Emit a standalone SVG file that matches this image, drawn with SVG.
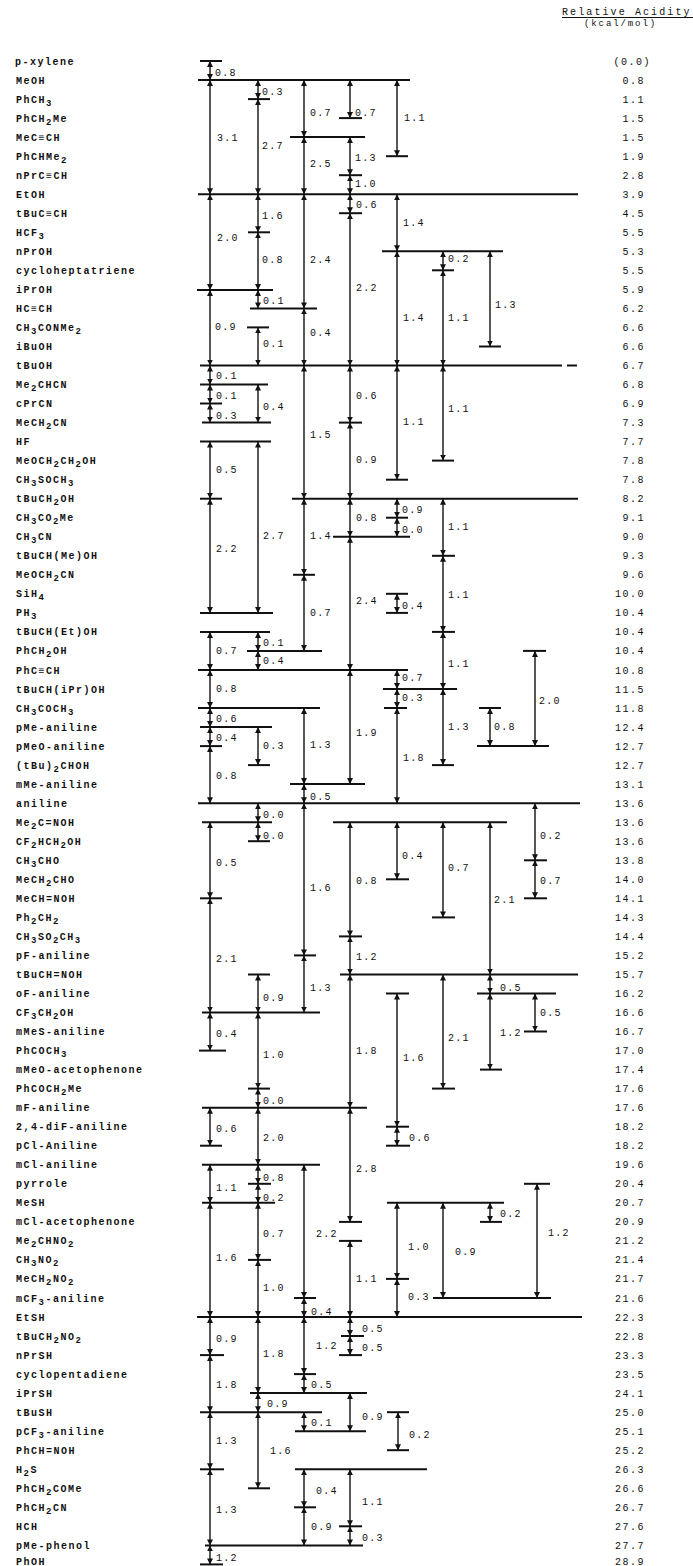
<svg xmlns="http://www.w3.org/2000/svg" width="693" height="1566" viewBox="0 0 693 1566">
<style>
  text { fill: #111; font-family: "Liberation Mono", "DejaVu Sans Mono", monospace; }
  .lb { font-size: 10px; font-weight: bold; letter-spacing: 1.5px; }
  .v { font-size: 10px; letter-spacing: 1.5px; text-anchor: end; }
  .n { font-size: 10px; letter-spacing: 1.2px; }
  .s { font-size: 9px; }
  .hd { font-size: 10px; letter-spacing: 2.1px; }
  .lv line, .tb line { stroke: #111; stroke-width: 2; }
  .ar line { stroke: #111; stroke-width: 1.4; marker-start: url(#ah); marker-end: url(#ah); }
</style>
<defs>
  <marker id="ah" viewBox="0 0 10 10" refX="10" refY="5" markerWidth="6" markerHeight="6" markerUnits="userSpaceOnUse" orient="auto-start-reverse">
    <path d="M0,0 L10,5 L0,10 z" fill="#111"/>
  </marker>
</defs>
<rect width="693" height="1566" fill="#fff"/>

<!-- column header -->
<g id="header">
  <text class="hd" x="562" y="15">Relative Acidity</text>
  <line x1="562" y1="17.5" x2="693" y2="17.5" stroke="#111" stroke-width="1"/>
  <text class="hd" x="584" y="26" style="font-size:9px;letter-spacing:1.9px">(kcal/mol)</text>
</g>

<!-- compounds: name on the left, relative acidity on the right -->
<g id="compounds">
<g id="c01"><text class="lb" x="15" y="64.5">p-xylene</text><text class="v" x="651" y="64.5">(0.0)</text></g>
<g id="c02"><text class="lb" x="16" y="83.5">MeOH</text><text class="v" x="645" y="83.5">0.8</text></g>
<g id="c03"><text class="lb" x="16" y="102.6">PhCH<tspan class="s" dy="3">3</tspan></text><text class="v" x="645" y="102.6">1.1</text></g>
<g id="c04"><text class="lb" x="16" y="121.6">PhCH<tspan class="s" dy="3">2</tspan><tspan dy="-3">Me</tspan></text><text class="v" x="645" y="121.6">1.5</text></g>
<g id="c05"><text class="lb" x="16" y="140.6">MeC≡CH</text><text class="v" x="645" y="140.6">1.5</text></g>
<g id="c06"><text class="lb" x="16" y="159.7">PhCHMe<tspan class="s" dy="3">2</tspan></text><text class="v" x="645" y="159.7">1.9</text></g>
<g id="c07"><text class="lb" x="16" y="178.7">nPrC≡CH</text><text class="v" x="645" y="178.7">2.8</text></g>
<g id="c08"><text class="lb" x="16" y="197.7">EtOH</text><text class="v" x="645" y="197.7">3.9</text></g>
<g id="c09"><text class="lb" x="16" y="216.7">tBuC≡CH</text><text class="v" x="645" y="216.7">4.5</text></g>
<g id="c10"><text class="lb" x="16" y="235.8">HCF<tspan class="s" dy="3">3</tspan></text><text class="v" x="645" y="235.8">5.5</text></g>
<g id="c11"><text class="lb" x="16" y="254.8">nPrOH</text><text class="v" x="645" y="254.8">5.3</text></g>
<g id="c12"><text class="lb" x="16" y="273.8">cycloheptatriene</text><text class="v" x="645" y="273.8">5.5</text></g>
<g id="c13"><text class="lb" x="16" y="292.9">iPrOH</text><text class="v" x="645" y="292.9">5.9</text></g>
<g id="c14"><text class="lb" x="16" y="311.9">HC≡CH</text><text class="v" x="645" y="311.9">6.2</text></g>
<g id="c15"><text class="lb" x="16" y="330.9">CH<tspan class="s" dy="3">3</tspan><tspan dy="-3">CONMe</tspan><tspan class="s" dy="3">2</tspan></text><text class="v" x="645" y="330.9">6.6</text></g>
<g id="c16"><text class="lb" x="16" y="350.0">iBuOH</text><text class="v" x="645" y="350.0">6.6</text></g>
<g id="c17"><text class="lb" x="16" y="369.0">tBuOH</text><text class="v" x="645" y="369.0">6.7</text></g>
<g id="c18"><text class="lb" x="16" y="388.0">Me<tspan class="s" dy="3">2</tspan><tspan dy="-3">CHCN</tspan></text><text class="v" x="645" y="388.0">6.8</text></g>
<g id="c19"><text class="lb" x="16" y="407.0">cPrCN</text><text class="v" x="645" y="407.0">6.9</text></g>
<g id="c20"><text class="lb" x="16" y="426.1">MeCH<tspan class="s" dy="3">2</tspan><tspan dy="-3">CN</tspan></text><text class="v" x="645" y="426.1">7.3</text></g>
<g id="c21"><text class="lb" x="16" y="445.1">HF</text><text class="v" x="645" y="445.1">7.7</text></g>
<g id="c22"><text class="lb" x="16" y="464.1">MeOCH<tspan class="s" dy="3">2</tspan><tspan dy="-3">CH</tspan><tspan class="s" dy="3">2</tspan><tspan dy="-3">OH</tspan></text><text class="v" x="645" y="464.1">7.8</text></g>
<g id="c23"><text class="lb" x="16" y="483.2">CH<tspan class="s" dy="3">3</tspan><tspan dy="-3">SOCH</tspan><tspan class="s" dy="3">3</tspan></text><text class="v" x="645" y="483.2">7.8</text></g>
<g id="c24"><text class="lb" x="16" y="502.2">tBuCH<tspan class="s" dy="3">2</tspan><tspan dy="-3">OH</tspan></text><text class="v" x="645" y="502.2">8.2</text></g>
<g id="c25"><text class="lb" x="16" y="521.2">CH<tspan class="s" dy="3">3</tspan><tspan dy="-3">CO</tspan><tspan class="s" dy="3">2</tspan><tspan dy="-3">Me</tspan></text><text class="v" x="645" y="521.2">9.1</text></g>
<g id="c26"><text class="lb" x="16" y="540.3">CH<tspan class="s" dy="3">3</tspan><tspan dy="-3">CN</tspan></text><text class="v" x="645" y="540.3">9.0</text></g>
<g id="c27"><text class="lb" x="16" y="559.3">tBuCH(Me)OH</text><text class="v" x="645" y="559.3">9.3</text></g>
<g id="c28"><text class="lb" x="16" y="578.3">MeOCH<tspan class="s" dy="3">2</tspan><tspan dy="-3">CN</tspan></text><text class="v" x="645" y="578.3">9.6</text></g>
<g id="c29"><text class="lb" x="16" y="597.3">SiH<tspan class="s" dy="3">4</tspan></text><text class="v" x="645" y="597.3">10.0</text></g>
<g id="c30"><text class="lb" x="16" y="616.4">PH<tspan class="s" dy="3">3</tspan></text><text class="v" x="645" y="616.4">10.4</text></g>
<g id="c31"><text class="lb" x="16" y="635.4">tBuCH(Et)OH</text><text class="v" x="645" y="635.4">10.4</text></g>
<g id="c32"><text class="lb" x="16" y="654.4">PhCH<tspan class="s" dy="3">2</tspan><tspan dy="-3">OH</tspan></text><text class="v" x="645" y="654.4">10.4</text></g>
<g id="c33"><text class="lb" x="16" y="673.5">PhC≡CH</text><text class="v" x="645" y="673.5">10.8</text></g>
<g id="c34"><text class="lb" x="16" y="692.5">tBuCH(iPr)OH</text><text class="v" x="645" y="692.5">11.5</text></g>
<g id="c35"><text class="lb" x="16" y="711.5">CH<tspan class="s" dy="3">3</tspan><tspan dy="-3">COCH</tspan><tspan class="s" dy="3">3</tspan></text><text class="v" x="645" y="711.5">11.8</text></g>
<g id="c36"><text class="lb" x="16" y="730.6">pMe-aniline</text><text class="v" x="645" y="730.6">12.4</text></g>
<g id="c37"><text class="lb" x="16" y="749.6">pMeO-aniline</text><text class="v" x="645" y="749.6">12.7</text></g>
<g id="c38"><text class="lb" x="16" y="768.6">(tBu)<tspan class="s" dy="3">2</tspan><tspan dy="-3">CHOH</tspan></text><text class="v" x="645" y="768.6">12.7</text></g>
<g id="c39"><text class="lb" x="16" y="787.6">mMe-aniline</text><text class="v" x="645" y="787.6">13.1</text></g>
<g id="c40"><text class="lb" x="16" y="806.7">aniline</text><text class="v" x="645" y="806.7">13.6</text></g>
<g id="c41"><text class="lb" x="16" y="825.7">Me<tspan class="s" dy="3">2</tspan><tspan dy="-3">C=NOH</tspan></text><text class="v" x="645" y="825.7">13.6</text></g>
<g id="c42"><text class="lb" x="16" y="844.7">CF<tspan class="s" dy="3">2</tspan><tspan dy="-3">HCH</tspan><tspan class="s" dy="3">2</tspan><tspan dy="-3">OH</tspan></text><text class="v" x="645" y="844.7">13.6</text></g>
<g id="c43"><text class="lb" x="16" y="863.8">CH<tspan class="s" dy="3">3</tspan><tspan dy="-3">CHO</tspan></text><text class="v" x="645" y="863.8">13.8</text></g>
<g id="c44"><text class="lb" x="16" y="882.8">MeCH<tspan class="s" dy="3">2</tspan><tspan dy="-3">CHO</tspan></text><text class="v" x="645" y="882.8">14.0</text></g>
<g id="c45"><text class="lb" x="16" y="901.8">MeCH=NOH</text><text class="v" x="645" y="901.8">14.1</text></g>
<g id="c46"><text class="lb" x="16" y="920.9">Ph<tspan class="s" dy="3">2</tspan><tspan dy="-3">CH</tspan><tspan class="s" dy="3">2</tspan></text><text class="v" x="645" y="920.9">14.3</text></g>
<g id="c47"><text class="lb" x="16" y="939.9">CH<tspan class="s" dy="3">3</tspan><tspan dy="-3">SO</tspan><tspan class="s" dy="3">2</tspan><tspan dy="-3">CH</tspan><tspan class="s" dy="3">3</tspan></text><text class="v" x="645" y="939.9">14.4</text></g>
<g id="c48"><text class="lb" x="16" y="958.9">pF-aniline</text><text class="v" x="645" y="958.9">15.2</text></g>
<g id="c49"><text class="lb" x="16" y="978.0">tBuCH=NOH</text><text class="v" x="645" y="978.0">15.7</text></g>
<g id="c50"><text class="lb" x="16" y="997.0">oF-aniline</text><text class="v" x="645" y="997.0">16.2</text></g>
<g id="c51"><text class="lb" x="16" y="1016.0">CF<tspan class="s" dy="3">3</tspan><tspan dy="-3">CH</tspan><tspan class="s" dy="3">2</tspan><tspan dy="-3">OH</tspan></text><text class="v" x="645" y="1016.0">16.6</text></g>
<g id="c52"><text class="lb" x="16" y="1035.0">mMeS-aniline</text><text class="v" x="645" y="1035.0">16.7</text></g>
<g id="c53"><text class="lb" x="16" y="1054.1">PhCOCH<tspan class="s" dy="3">3</tspan></text><text class="v" x="645" y="1054.1">17.0</text></g>
<g id="c54"><text class="lb" x="16" y="1073.1">mMeO-acetophenone</text><text class="v" x="645" y="1073.1">17.4</text></g>
<g id="c55"><text class="lb" x="16" y="1092.1">PhCOCH<tspan class="s" dy="3">2</tspan><tspan dy="-3">Me</tspan></text><text class="v" x="645" y="1092.1">17.6</text></g>
<g id="c56"><text class="lb" x="16" y="1111.2">mF-aniline</text><text class="v" x="645" y="1111.2">17.6</text></g>
<g id="c57"><text class="lb" x="16" y="1130.2">2,4-diF-aniline</text><text class="v" x="645" y="1130.2">18.2</text></g>
<g id="c58"><text class="lb" x="16" y="1149.2">pCl-Aniline</text><text class="v" x="645" y="1149.2">18.2</text></g>
<g id="c59"><text class="lb" x="16" y="1168.3">mCl-aniline</text><text class="v" x="645" y="1168.3">19.6</text></g>
<g id="c60"><text class="lb" x="16" y="1187.3">pyrrole</text><text class="v" x="645" y="1187.3">20.4</text></g>
<g id="c61"><text class="lb" x="16" y="1206.3">MeSH</text><text class="v" x="645" y="1206.3">20.7</text></g>
<g id="c62"><text class="lb" x="16" y="1225.4">mCl-acetophenone</text><text class="v" x="645" y="1225.4">20.9</text></g>
<g id="c63"><text class="lb" x="16" y="1244.4">Me<tspan class="s" dy="3">2</tspan><tspan dy="-3">CHNO</tspan><tspan class="s" dy="3">2</tspan></text><text class="v" x="645" y="1244.4">21.2</text></g>
<g id="c64"><text class="lb" x="16" y="1263.4">CH<tspan class="s" dy="3">3</tspan><tspan dy="-3">NO</tspan><tspan class="s" dy="3">2</tspan></text><text class="v" x="645" y="1263.4">21.4</text></g>
<g id="c65"><text class="lb" x="16" y="1282.4">MeCH<tspan class="s" dy="3">2</tspan><tspan dy="-3">NO</tspan><tspan class="s" dy="3">2</tspan></text><text class="v" x="645" y="1282.4">21.7</text></g>
<g id="c66"><text class="lb" x="16" y="1301.5">mCF<tspan class="s" dy="3">3</tspan><tspan dy="-3">-aniline</tspan></text><text class="v" x="645" y="1301.5">21.6</text></g>
<g id="c67"><text class="lb" x="16" y="1320.5">EtSH</text><text class="v" x="645" y="1320.5">22.3</text></g>
<g id="c68"><text class="lb" x="16" y="1339.5">tBuCH<tspan class="s" dy="3">2</tspan><tspan dy="-3">NO</tspan><tspan class="s" dy="3">2</tspan></text><text class="v" x="645" y="1339.5">22.8</text></g>
<g id="c69"><text class="lb" x="16" y="1358.6">nPrSH</text><text class="v" x="645" y="1358.6">23.3</text></g>
<g id="c70"><text class="lb" x="16" y="1377.6">cyclopentadiene</text><text class="v" x="645" y="1377.6">23.5</text></g>
<g id="c71"><text class="lb" x="16" y="1396.6">iPrSH</text><text class="v" x="645" y="1396.6">24.1</text></g>
<g id="c72"><text class="lb" x="16" y="1415.7">tBuSH</text><text class="v" x="645" y="1415.7">25.0</text></g>
<g id="c73"><text class="lb" x="16" y="1434.7">pCF<tspan class="s" dy="3">3</tspan><tspan dy="-3">-aniline</tspan></text><text class="v" x="645" y="1434.7">25.1</text></g>
<g id="c74"><text class="lb" x="16" y="1453.7">PhCH=NOH</text><text class="v" x="645" y="1453.7">25.2</text></g>
<g id="c75"><text class="lb" x="16" y="1472.8">H<tspan class="s" dy="3">2</tspan><tspan dy="-3">S</tspan></text><text class="v" x="645" y="1472.8">26.3</text></g>
<g id="c76"><text class="lb" x="16" y="1491.8">PhCH<tspan class="s" dy="3">2</tspan><tspan dy="-3">COMe</tspan></text><text class="v" x="645" y="1491.8">26.6</text></g>
<g id="c77"><text class="lb" x="16" y="1510.8">PhCH<tspan class="s" dy="3">2</tspan><tspan dy="-3">CN</tspan></text><text class="v" x="645" y="1510.8">26.7</text></g>
<g id="c78"><text class="lb" x="16" y="1529.8">HCH</text><text class="v" x="645" y="1529.8">27.6</text></g>
<g id="c79"><text class="lb" x="16" y="1548.9">pMe-phenol</text><text class="v" x="645" y="1548.9">27.7</text></g>
<g id="c80"><text class="lb" x="16" y="1565">PhOH</text><text class="v" x="645" y="1565">28.9</text></g>
</g>

<g id="connectors">
<!-- shared acidity levels -->
<g class="lv">
  <line x1="198" y1="80" x2="410" y2="80"/>
  <line x1="290" y1="137.1" x2="365" y2="137.1"/>
  <line x1="198" y1="194.2" x2="578" y2="194.2"/>
  <line x1="382" y1="251.3" x2="503" y2="251.3"/>
  <line x1="197" y1="290" x2="273" y2="290"/>
  <line x1="250" y1="308.4" x2="317" y2="308.4"/>
  <line x1="200" y1="365.5" x2="562" y2="365.5"/>
  <line x1="567" y1="365.5" x2="577" y2="365.5"/>
  <line x1="200" y1="384.5" x2="268" y2="384.5"/>
  <line x1="202" y1="422.6" x2="271" y2="422.6"/>
  <line x1="200" y1="441.6" x2="271" y2="441.6"/>
  <line x1="292" y1="498.7" x2="578" y2="498.7"/>
  <line x1="333" y1="536.8" x2="410" y2="536.8"/>
  <line x1="200" y1="612.9" x2="273" y2="612.9"/>
  <line x1="200" y1="631.9" x2="270" y2="631.9"/>
  <line x1="247" y1="650.9" x2="322" y2="650.9"/>
  <line x1="198" y1="670" x2="408" y2="670"/>
  <line x1="383" y1="689" x2="457" y2="689"/>
  <line x1="198" y1="708" x2="320" y2="708"/>
  <line x1="200" y1="727.1" x2="272" y2="727.1"/>
  <line x1="477" y1="746.1" x2="549" y2="746.1"/>
  <line x1="290" y1="784.1" x2="365" y2="784.1"/>
  <line x1="198" y1="803.2" x2="580" y2="803.2"/>
  <line x1="202" y1="822.2" x2="272" y2="822.2"/>
  <line x1="333" y1="822.2" x2="507" y2="822.2"/>
  <line x1="340" y1="974.5" x2="578" y2="974.5"/>
  <line x1="477" y1="993.5" x2="556" y2="993.5"/>
  <line x1="202" y1="1012.5" x2="320" y2="1012.5"/>
  <line x1="202" y1="1107.7" x2="367" y2="1107.7"/>
  <line x1="202" y1="1164.8" x2="320" y2="1164.8"/>
  <line x1="202" y1="1202.8" x2="275" y2="1202.8"/>
  <line x1="387" y1="1202.8" x2="504" y2="1202.8"/>
  <line x1="433" y1="1298" x2="551" y2="1298"/>
  <line x1="197" y1="1317" x2="582" y2="1317"/>
  <line x1="250" y1="1393.1" x2="367" y2="1393.1"/>
  <line x1="200" y1="1412.2" x2="322" y2="1412.2"/>
  <line x1="295" y1="1431.2" x2="366" y2="1431.2"/>
  <line x1="295" y1="1469.3" x2="427" y2="1469.3"/>
  <line x1="205" y1="1545.4" x2="363" y2="1545.4"/>
</g>

<!-- end ticks -->
<g class="tb">
  <line x1="200" y1="61" x2="222" y2="61"/>
  <line x1="248" y1="99.1" x2="270" y2="99.1"/>
  <line x1="339" y1="118.1" x2="362" y2="118.1"/>
  <line x1="386" y1="156.2" x2="408" y2="156.2"/>
  <line x1="339" y1="175.2" x2="362" y2="175.2"/>
  <line x1="339" y1="213.2" x2="362" y2="213.2"/>
  <line x1="248" y1="232.3" x2="270" y2="232.3"/>
  <line x1="432" y1="270.3" x2="454" y2="270.3"/>
  <line x1="247" y1="327.4" x2="269" y2="327.4"/>
  <line x1="479" y1="346.5" x2="501" y2="346.5"/>
  <line x1="200" y1="403.5" x2="222" y2="403.5"/>
  <line x1="339" y1="422.6" x2="362" y2="422.6"/>
  <line x1="432" y1="460.6" x2="454" y2="460.6"/>
  <line x1="386" y1="479.7" x2="408" y2="479.7"/>
  <line x1="200" y1="498.7" x2="222" y2="498.7"/>
  <line x1="386" y1="517.7" x2="408" y2="517.7"/>
  <line x1="432" y1="555.8" x2="455" y2="555.8"/>
  <line x1="293" y1="574.8" x2="315" y2="574.8"/>
  <line x1="386" y1="593.8" x2="408" y2="593.8"/>
  <line x1="386" y1="612.9" x2="408" y2="612.9"/>
  <line x1="432" y1="631.9" x2="455" y2="631.9"/>
  <line x1="523" y1="650.9" x2="546" y2="650.9"/>
  <line x1="384" y1="708" x2="407" y2="708"/>
  <line x1="479" y1="708" x2="501" y2="708"/>
  <line x1="200" y1="746.1" x2="222" y2="746.1"/>
  <line x1="248" y1="765.1" x2="270" y2="765.1"/>
  <line x1="432" y1="765.1" x2="454" y2="765.1"/>
  <line x1="248" y1="841.2" x2="270" y2="841.2"/>
  <line x1="524" y1="860.3" x2="547" y2="860.3"/>
  <line x1="386" y1="879.3" x2="409" y2="879.3"/>
  <line x1="200" y1="898.3" x2="222" y2="898.3"/>
  <line x1="524" y1="898.3" x2="547" y2="898.3"/>
  <line x1="432" y1="917.4" x2="455" y2="917.4"/>
  <line x1="339" y1="936.4" x2="362" y2="936.4"/>
  <line x1="294" y1="955.4" x2="316" y2="955.4"/>
  <line x1="248" y1="974.5" x2="270" y2="974.5"/>
  <line x1="386" y1="993.5" x2="409" y2="993.5"/>
  <line x1="524" y1="1031.5" x2="547" y2="1031.5"/>
  <line x1="199" y1="1050.6" x2="226" y2="1050.6"/>
  <line x1="480" y1="1069.6" x2="502" y2="1069.6"/>
  <line x1="248" y1="1088.6" x2="270" y2="1088.6"/>
  <line x1="432" y1="1088.6" x2="455" y2="1088.6"/>
  <line x1="386" y1="1126.7" x2="409" y2="1126.7"/>
  <line x1="200" y1="1145.7" x2="222" y2="1145.7"/>
  <line x1="386" y1="1145.7" x2="410" y2="1145.7"/>
  <line x1="248" y1="1183.8" x2="271" y2="1183.8"/>
  <line x1="524" y1="1183.8" x2="550" y2="1183.8"/>
  <line x1="339" y1="1221.9" x2="362" y2="1221.9"/>
  <line x1="480" y1="1221.9" x2="502" y2="1221.9"/>
  <line x1="339" y1="1240.9" x2="362" y2="1240.9"/>
  <line x1="248" y1="1259.9" x2="271" y2="1259.9"/>
  <line x1="386" y1="1278.9" x2="409" y2="1278.9"/>
  <line x1="294" y1="1298" x2="316" y2="1298"/>
  <line x1="341" y1="1336" x2="364" y2="1336"/>
  <line x1="200" y1="1355.1" x2="224" y2="1355.1"/>
  <line x1="339" y1="1355.1" x2="362" y2="1355.1"/>
  <line x1="294" y1="1374.1" x2="316" y2="1374.1"/>
  <line x1="387" y1="1412.2" x2="409" y2="1412.2"/>
  <line x1="387" y1="1450.2" x2="409" y2="1450.2"/>
  <line x1="200" y1="1469.3" x2="224" y2="1469.3"/>
  <line x1="248" y1="1488.3" x2="270" y2="1488.3"/>
  <line x1="294" y1="1507.3" x2="316" y2="1507.3"/>
  <line x1="339" y1="1526.3" x2="362" y2="1526.3"/>
  <line x1="200" y1="1564.4" x2="223" y2="1564.4"/>
</g>

<!-- differences between levels -->
<g class="ar">
  <line x1="210" y1="61" x2="210" y2="80"/>
  <line x1="210" y1="80" x2="210" y2="194.2"/>
  <line x1="258" y1="80" x2="258" y2="99.1"/>
  <line x1="258" y1="99.1" x2="258" y2="194.2"/>
  <line x1="304" y1="80" x2="304" y2="137.1"/>
  <line x1="304" y1="137.1" x2="304" y2="194.2"/>
  <line x1="350" y1="80" x2="350" y2="118.1"/>
  <line x1="397" y1="80" x2="397" y2="156.2"/>
  <line x1="350" y1="137.1" x2="350" y2="175.2"/>
  <line x1="350" y1="175.2" x2="350" y2="194.2"/>
  <line x1="210" y1="194.2" x2="210" y2="290"/>
  <line x1="258" y1="194.2" x2="258" y2="232.3"/>
  <line x1="258" y1="232.3" x2="258" y2="290"/>
  <line x1="258" y1="290" x2="258" y2="308.4"/>
  <line x1="304" y1="194.2" x2="304" y2="308.4"/>
  <line x1="304" y1="308.4" x2="304" y2="365.5"/>
  <line x1="210" y1="290" x2="210" y2="365.5"/>
  <line x1="258" y1="327.4" x2="258" y2="365.5"/>
  <line x1="350" y1="194.2" x2="350" y2="213.2"/>
  <line x1="350" y1="213.2" x2="350" y2="365.5"/>
  <line x1="397" y1="194.2" x2="397" y2="251.3"/>
  <line x1="443" y1="251.3" x2="443" y2="270.3"/>
  <line x1="443" y1="270.3" x2="443" y2="365.5"/>
  <line x1="397" y1="251.3" x2="397" y2="365.5"/>
  <line x1="490" y1="251.3" x2="490" y2="346.5"/>
  <line x1="210" y1="365.5" x2="210" y2="384.5"/>
  <line x1="210" y1="384.5" x2="210" y2="403.5"/>
  <line x1="210" y1="403.5" x2="210" y2="422.6"/>
  <line x1="258" y1="384.5" x2="258" y2="422.6"/>
  <line x1="304" y1="365.5" x2="304" y2="498.7"/>
  <line x1="210" y1="441.6" x2="210" y2="498.7"/>
  <line x1="258" y1="441.6" x2="258" y2="612.9"/>
  <line x1="210" y1="498.7" x2="210" y2="612.9"/>
  <line x1="350" y1="365.5" x2="350" y2="422.6"/>
  <line x1="350" y1="422.6" x2="350" y2="498.7"/>
  <line x1="397" y1="365.5" x2="397" y2="479.7"/>
  <line x1="443" y1="365.5" x2="443" y2="460.6"/>
  <line x1="350" y1="498.7" x2="350" y2="536.8"/>
  <line x1="397" y1="498.7" x2="397" y2="517.7"/>
  <line x1="397" y1="517.7" x2="397" y2="536.8"/>
  <line x1="304" y1="498.7" x2="304" y2="574.8"/>
  <line x1="304" y1="574.8" x2="304" y2="650.9"/>
  <line x1="258" y1="631.9" x2="258" y2="650.9"/>
  <line x1="258" y1="650.9" x2="258" y2="670"/>
  <line x1="210" y1="631.9" x2="210" y2="670"/>
  <line x1="350" y1="536.8" x2="350" y2="670"/>
  <line x1="397" y1="593.8" x2="397" y2="612.9"/>
  <line x1="443" y1="498.7" x2="443" y2="555.8"/>
  <line x1="443" y1="555.8" x2="443" y2="631.9"/>
  <line x1="443" y1="631.9" x2="443" y2="689"/>
  <line x1="443" y1="689" x2="443" y2="765.1"/>
  <line x1="397" y1="670" x2="397" y2="689"/>
  <line x1="397" y1="689" x2="397" y2="708"/>
  <line x1="397" y1="708" x2="397" y2="803.2"/>
  <line x1="350" y1="670" x2="350" y2="784.1"/>
  <line x1="304" y1="708" x2="304" y2="784.1"/>
  <line x1="304" y1="784.1" x2="304" y2="803.2"/>
  <line x1="210" y1="670" x2="210" y2="708"/>
  <line x1="210" y1="708" x2="210" y2="727.1"/>
  <line x1="210" y1="727.1" x2="210" y2="746.1"/>
  <line x1="210" y1="746.1" x2="210" y2="803.2"/>
  <line x1="258" y1="727.1" x2="258" y2="765.1"/>
  <line x1="490" y1="708" x2="490" y2="746.1"/>
  <line x1="535" y1="650.9" x2="535" y2="746.1"/>
  <line x1="258" y1="803.2" x2="258" y2="822.2"/>
  <line x1="258" y1="822.2" x2="258" y2="841.2"/>
  <line x1="210" y1="822.2" x2="210" y2="898.3"/>
  <line x1="210" y1="898.3" x2="210" y2="1012.5"/>
  <line x1="304" y1="803.2" x2="304" y2="955.4"/>
  <line x1="304" y1="955.4" x2="304" y2="1012.5"/>
  <line x1="258" y1="974.5" x2="258" y2="1012.5"/>
  <line x1="258" y1="1012.5" x2="258" y2="1088.6"/>
  <line x1="258" y1="1088.6" x2="258" y2="1107.7"/>
  <line x1="210" y1="1012.5" x2="210" y2="1050.6"/>
  <line x1="350" y1="822.2" x2="350" y2="936.4"/>
  <line x1="350" y1="936.4" x2="350" y2="974.5"/>
  <line x1="397" y1="822.2" x2="397" y2="879.3"/>
  <line x1="443" y1="822.2" x2="443" y2="917.4"/>
  <line x1="490" y1="822.2" x2="490" y2="974.5"/>
  <line x1="535" y1="803.2" x2="535" y2="860.3"/>
  <line x1="535" y1="860.3" x2="535" y2="898.3"/>
  <line x1="490" y1="974.5" x2="490" y2="993.5"/>
  <line x1="490" y1="993.5" x2="490" y2="1069.6"/>
  <line x1="535" y1="993.5" x2="535" y2="1031.5"/>
  <line x1="443" y1="974.5" x2="443" y2="1088.6"/>
  <line x1="397" y1="993.5" x2="397" y2="1126.7"/>
  <line x1="397" y1="1126.7" x2="397" y2="1145.7"/>
  <line x1="350" y1="974.5" x2="350" y2="1107.7"/>
  <line x1="350" y1="1107.7" x2="350" y2="1221.9"/>
  <line x1="350" y1="1240.9" x2="350" y2="1317"/>
  <line x1="210" y1="1107.7" x2="210" y2="1145.7"/>
  <line x1="258" y1="1107.7" x2="258" y2="1164.8"/>
  <line x1="210" y1="1164.8" x2="210" y2="1202.8"/>
  <line x1="258" y1="1164.8" x2="258" y2="1183.8"/>
  <line x1="258" y1="1183.8" x2="258" y2="1202.8"/>
  <line x1="210" y1="1202.8" x2="210" y2="1317"/>
  <line x1="210" y1="1317" x2="210" y2="1355.1"/>
  <line x1="210" y1="1355.1" x2="210" y2="1412.2"/>
  <line x1="258" y1="1202.8" x2="258" y2="1259.9"/>
  <line x1="258" y1="1259.9" x2="258" y2="1317"/>
  <line x1="258" y1="1317" x2="258" y2="1393.1"/>
  <line x1="258" y1="1393.1" x2="258" y2="1412.2"/>
  <line x1="258" y1="1412.2" x2="258" y2="1488.3"/>
  <line x1="304" y1="1164.8" x2="304" y2="1298"/>
  <line x1="304" y1="1298" x2="304" y2="1317"/>
  <line x1="304" y1="1317" x2="304" y2="1374.1"/>
  <line x1="304" y1="1374.1" x2="304" y2="1393.1"/>
  <line x1="350" y1="1317" x2="350" y2="1336"/>
  <line x1="350" y1="1336" x2="350" y2="1355.1"/>
  <line x1="304" y1="1412.2" x2="304" y2="1431.2"/>
  <line x1="350" y1="1393.1" x2="350" y2="1431.2"/>
  <line x1="398" y1="1412.2" x2="398" y2="1450.2"/>
  <line x1="210" y1="1412.2" x2="210" y2="1469.3"/>
  <line x1="210" y1="1469.3" x2="210" y2="1545.4"/>
  <line x1="210" y1="1545.4" x2="210" y2="1564.4"/>
  <line x1="304" y1="1469.3" x2="304" y2="1507.3"/>
  <line x1="304" y1="1507.3" x2="304" y2="1545.4"/>
  <line x1="350" y1="1469.3" x2="350" y2="1526.3"/>
  <line x1="350" y1="1526.3" x2="350" y2="1545.4"/>
  <line x1="397" y1="1202.8" x2="397" y2="1278.9"/>
  <line x1="397" y1="1278.9" x2="397" y2="1317"/>
  <line x1="443" y1="1202.8" x2="443" y2="1298"/>
  <line x1="490" y1="1202.8" x2="490" y2="1221.9"/>
  <line x1="537" y1="1183.8" x2="537" y2="1298"/>
</g>

<!-- difference values -->
<g id="diffs">
  <text class="n" x="215" y="75.5">0.8</text>
  <text class="n" x="217" y="140.5">3.1</text>
  <text class="n" x="262" y="94.5">0.3</text>
  <text class="n" x="262" y="148.5">2.7</text>
  <text class="n" x="310" y="115.5">0.7</text>
  <text class="n" x="310" y="166.5">2.5</text>
  <text class="n" x="355" y="115.5">0.7</text>
  <text class="n" x="404" y="120.5">1.1</text>
  <text class="n" x="355" y="160.5">1.3</text>
  <text class="n" x="355" y="186.5">1.0</text>
  <text class="n" x="217" y="240.5">2.0</text>
  <text class="n" x="262" y="218.5">1.6</text>
  <text class="n" x="262" y="262.5">0.8</text>
  <text class="n" x="263" y="303.5">0.1</text>
  <text class="n" x="310" y="262.5">2.4</text>
  <text class="n" x="310" y="335.5">0.4</text>
  <text class="n" x="215" y="329.5">0.9</text>
  <text class="n" x="263" y="346.5">0.1</text>
  <text class="n" x="356" y="207.5">0.6</text>
  <text class="n" x="356" y="290.5">2.2</text>
  <text class="n" x="403" y="225.5">1.4</text>
  <text class="n" x="448" y="261.5">0.2</text>
  <text class="n" x="448" y="320.5">1.1</text>
  <text class="n" x="403" y="320.5">1.4</text>
  <text class="n" x="495" y="307.5">1.3</text>
  <text class="n" x="216" y="378.5">0.1</text>
  <text class="n" x="216" y="398.5">0.1</text>
  <text class="n" x="216" y="418.5">0.3</text>
  <text class="n" x="263" y="409.5">0.4</text>
  <text class="n" x="310" y="437.5">1.5</text>
  <text class="n" x="216" y="472.5">0.5</text>
  <text class="n" x="263" y="538.5">2.7</text>
  <text class="n" x="216" y="551.5">2.2</text>
  <text class="n" x="356" y="398.5">0.6</text>
  <text class="n" x="356" y="462.5">0.9</text>
  <text class="n" x="403" y="424.5">1.1</text>
  <text class="n" x="448" y="411.5">1.1</text>
  <text class="n" x="356" y="520.5">0.8</text>
  <text class="n" x="402" y="512.5">0.9</text>
  <text class="n" x="402" y="532.5">0.0</text>
  <text class="n" x="310" y="538.5">1.4</text>
  <text class="n" x="310" y="615.5">0.7</text>
  <text class="n" x="263" y="645.5">0.1</text>
  <text class="n" x="263" y="663.5">0.4</text>
  <text class="n" x="216" y="653.5">0.7</text>
  <text class="n" x="356" y="603.5">2.4</text>
  <text class="n" x="402" y="608.5">0.4</text>
  <text class="n" x="448" y="529.5">1.1</text>
  <text class="n" x="448" y="597.5">1.1</text>
  <text class="n" x="448" y="666.5">1.1</text>
  <text class="n" x="448" y="729.5">1.3</text>
  <text class="n" x="402" y="680.5">0.7</text>
  <text class="n" x="402" y="700.5">0.3</text>
  <text class="n" x="403" y="760.5">1.8</text>
  <text class="n" x="356" y="735.5">1.9</text>
  <text class="n" x="310" y="747.5">1.3</text>
  <text class="n" x="310" y="799.5">0.5</text>
  <text class="n" x="216" y="691.5">0.8</text>
  <text class="n" x="216" y="721.5">0.6</text>
  <text class="n" x="216" y="740.5">0.4</text>
  <text class="n" x="216" y="778.5">0.8</text>
  <text class="n" x="263" y="748.5">0.3</text>
  <text class="n" x="494" y="729.5">0.8</text>
  <text class="n" x="539" y="703.5">2.0</text>
  <text class="n" x="263" y="817.5">0.0</text>
  <text class="n" x="263" y="838.5">0.0</text>
  <text class="n" x="216" y="865.5">0.5</text>
  <text class="n" x="216" y="961.5">2.1</text>
  <text class="n" x="310" y="890.5">1.6</text>
  <text class="n" x="310" y="990.5">1.3</text>
  <text class="n" x="263" y="1000.5">0.9</text>
  <text class="n" x="263" y="1057.5">1.0</text>
  <text class="n" x="263" y="1103.5">0.0</text>
  <text class="n" x="216" y="1036.5">0.4</text>
  <text class="n" x="356" y="883.5">0.8</text>
  <text class="n" x="356" y="959.5">1.2</text>
  <text class="n" x="402" y="858.5">0.4</text>
  <text class="n" x="448" y="870.5">0.7</text>
  <text class="n" x="494" y="902.5">2.1</text>
  <text class="n" x="540" y="838.5">0.2</text>
  <text class="n" x="540" y="883.5">0.7</text>
  <text class="n" x="500" y="990.5">0.5</text>
  <text class="n" x="500" y="1035.5">1.2</text>
  <text class="n" x="540" y="1015.5">0.5</text>
  <text class="n" x="448" y="1040.5">2.1</text>
  <text class="n" x="403" y="1060.5">1.6</text>
  <text class="n" x="409" y="1140.5">0.6</text>
  <text class="n" x="356" y="1053.5">1.8</text>
  <text class="n" x="356" y="1171.5">2.8</text>
  <text class="n" x="356" y="1281.5">1.1</text>
  <text class="n" x="216" y="1131.5">0.6</text>
  <text class="n" x="263" y="1140.5">2.0</text>
  <text class="n" x="216" y="1190.5">1.1</text>
  <text class="n" x="263" y="1180.5">0.8</text>
  <text class="n" x="263" y="1200.5">0.2</text>
  <text class="n" x="216" y="1260.5">1.6</text>
  <text class="n" x="216" y="1341.5">0.9</text>
  <text class="n" x="216" y="1387.5">1.8</text>
  <text class="n" x="263" y="1236.5">0.7</text>
  <text class="n" x="263" y="1290.5">1.0</text>
  <text class="n" x="263" y="1356.5">1.8</text>
  <text class="n" x="267" y="1406.5">0.9</text>
  <text class="n" x="270" y="1453.5">1.6</text>
  <text class="n" x="316" y="1236.5">2.2</text>
  <text class="n" x="311" y="1314.5">0.4</text>
  <text class="n" x="316" y="1348.5">1.2</text>
  <text class="n" x="311" y="1387.5">0.5</text>
  <text class="n" x="362" y="1331.5">0.5</text>
  <text class="n" x="362" y="1350.5">0.5</text>
  <text class="n" x="311" y="1425.5">0.1</text>
  <text class="n" x="362" y="1419.5">0.9</text>
  <text class="n" x="409" y="1437.5">0.2</text>
  <text class="n" x="216" y="1443.5">1.3</text>
  <text class="n" x="216" y="1512.5">1.3</text>
  <text class="n" x="216" y="1560.5">1.2</text>
  <text class="n" x="316" y="1493.5">0.4</text>
  <text class="n" x="311" y="1529.5">0.9</text>
  <text class="n" x="362" y="1504.5">1.1</text>
  <text class="n" x="362" y="1540.5">0.3</text>
  <text class="n" x="408" y="1249.5">1.0</text>
  <text class="n" x="408" y="1299.5">0.3</text>
  <text class="n" x="455" y="1254.5">0.9</text>
  <text class="n" x="500" y="1216.5">0.2</text>
  <text class="n" x="548" y="1235.5">1.2</text>
</g>
</g>
</svg>
